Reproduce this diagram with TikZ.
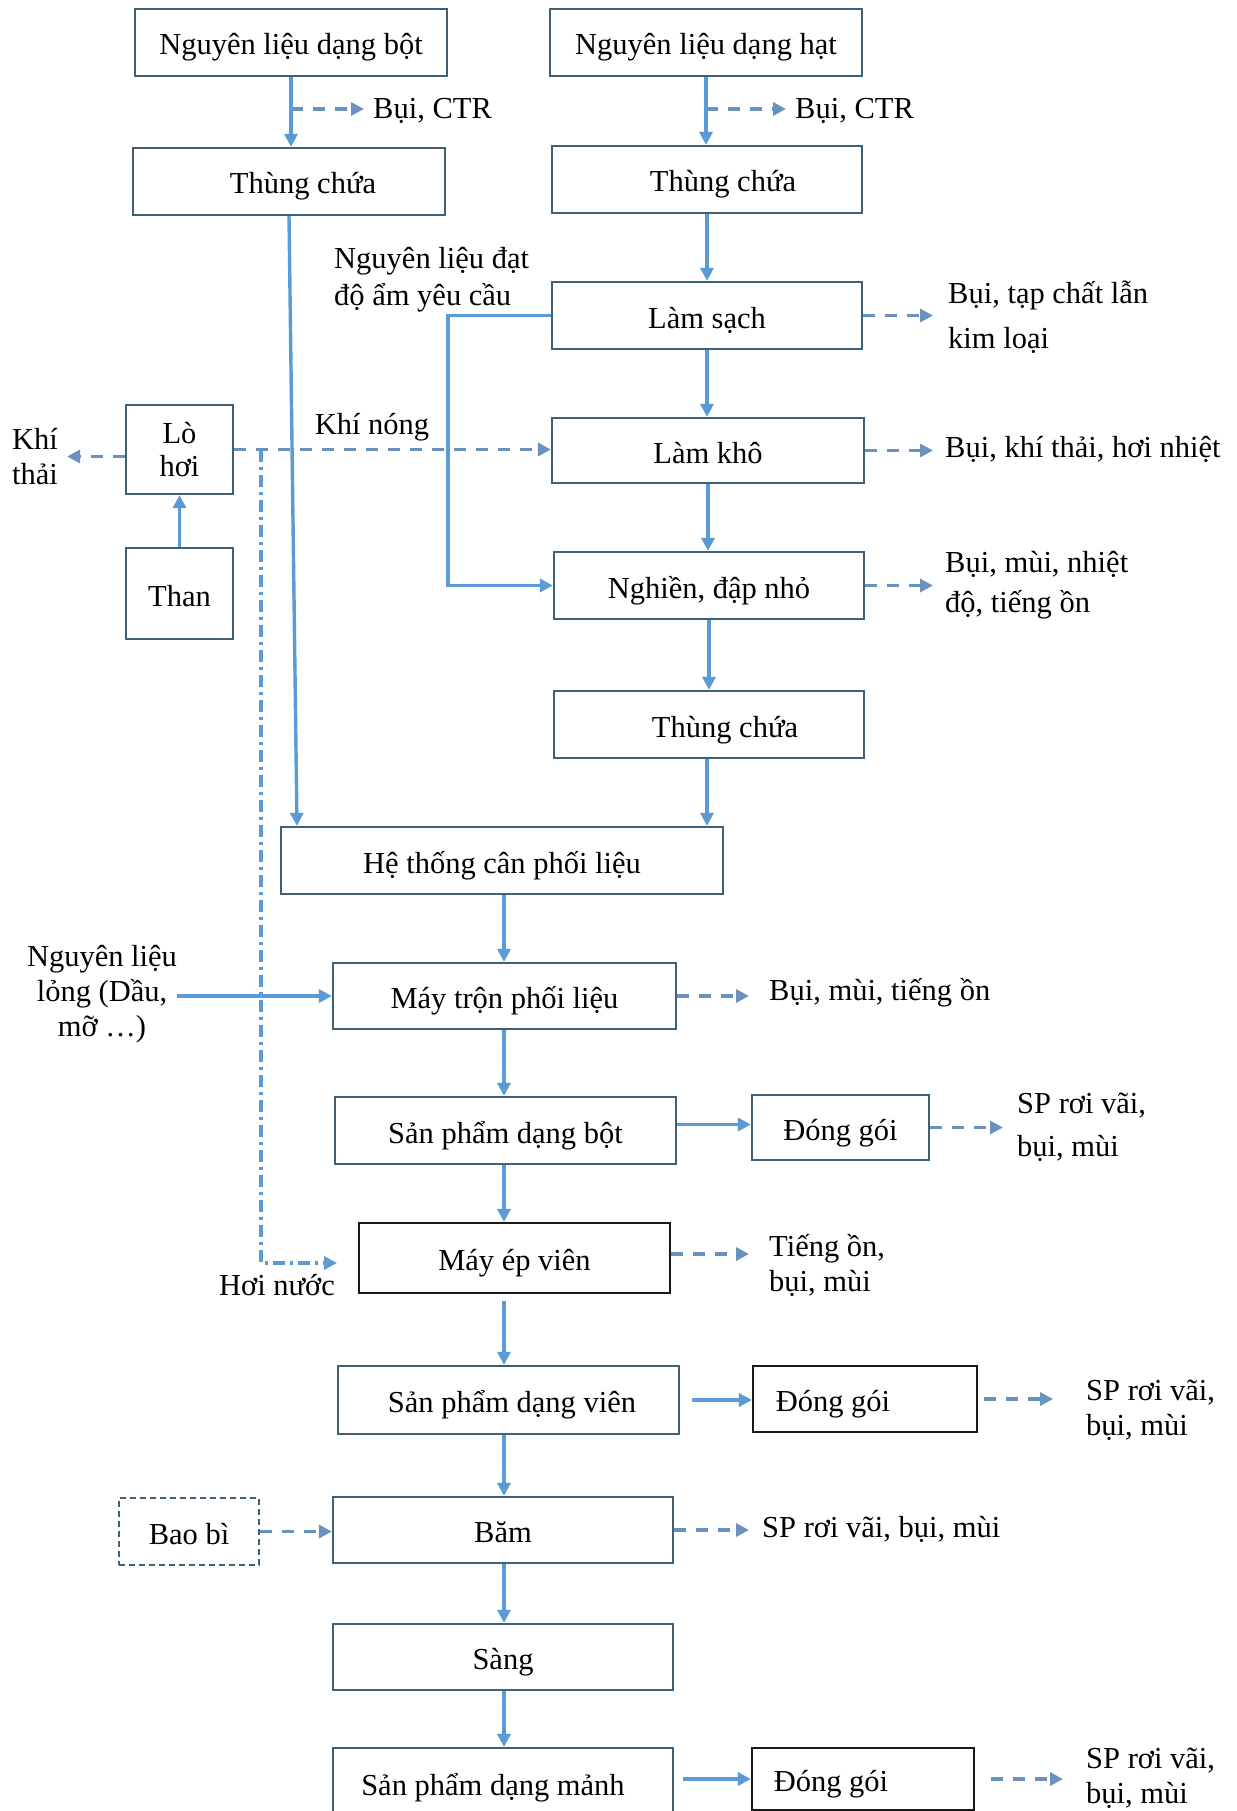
\documentclass[tikz,border=0pt]{standalone}
\usepackage{fontspec}
\setmainfont{Liberation Serif}
\usetikzlibrary{arrows.meta}
\definecolor{boxc}{HTML}{3F6178}
\definecolor{arrc}{HTML}{5B9BD5}
\definecolor{dashc}{HTML}{6A92BC}
\newcommand\fsz{\fontsize{30.5}{36}\selectfont}
\newcommand\fls[1]{\fontsize{30.5}{#1}\selectfont}
\begin{document}
\begin{tikzpicture}[x=1pt,y=-1pt,
  box/.style={draw=boxc, line width=2.2pt, fill=white, inner sep=2pt, font=\fsz, text height=29pt, text depth=4pt},
  kbox/.style={box, draw=black!90},
  dbox/.style={box, dash pattern=on 6pt off 4pt},
  lab/.style={inner sep=0pt, font=\fsz, align=left},
  arr/.style={draw=arrc, line width=3.4pt, -{Triangle[length=13pt,width=13pt]}},
  darr/.style={draw=dashc, line width=3.4pt, dash pattern=on 12pt off 10pt, -{Triangle[length=13pt,width=13pt]}},
  ddarr/.style={draw=arrc, line width=3.2pt, dash pattern=on 12pt off 5pt on 3pt off 5pt, -{Triangle[length=13pt,width=13pt]}}]
\fill[white] (0,0) rectangle (1236,1811);
\useasboundingbox (0,0) rectangle (1236,1811);

% boxes
\node[box, minimum width=312pt, minimum height=67pt] (bot) at (291,42.5) {Nguyên liệu dạng bột};
\node[box, minimum width=312pt, minimum height=67pt] (hat) at (706,42.5) {Nguyên liệu dạng hạt};
\node[box, minimum width=312pt, minimum height=67pt] (tc1) at (289,181.5) {\hspace*{28pt}Thùng chứa};
\node[box, minimum width=310pt, minimum height=67pt] (tc2) at (707,179.5) {\hspace*{32pt}Thùng chứa};
\node[box, minimum width=310pt, minimum height=67pt] (lamsach) at (707,315.5) {Làm sạch};
\node[box, minimum width=312pt, minimum height=65pt] (lamkho) at (708,450.5) {Làm khô};
\node[box, minimum width=310pt, minimum height=67pt] (nghien) at (709,585.5) {Nghiền, đập nhỏ};
\node[box, minimum width=310pt, minimum height=67pt] (tc3) at (709,724.5) {\hspace*{32pt}Thùng chứa};
\node[box, minimum width=442pt, minimum height=67pt] (heth) at (502,860.5) {Hệ thống cân phối liệu};
\node[box, minimum width=343pt, minimum height=66pt] (mixer) at (504.5,996) {Máy trộn phối liệu};
\node[box, minimum width=341pt, minimum height=67pt] (spbot) at (505.5,1130.5) {Sản phẩm dạng bột};
\node[box, minimum width=177pt, minimum height=65pt] (dg1) at (840.5,1127.5) {Đóng gói};
\node[kbox, minimum width=311pt, minimum height=70pt] (press) at (514.5,1258) {Máy ép viên};
\node[box, minimum width=341pt, minimum height=68pt] (spvien) at (508.5,1400) {\hspace*{7pt}Sản phẩm dạng viên};
\node[kbox, minimum width=224pt, minimum height=66pt] (dg2) at (865,1399) {Đóng gói\hspace*{64pt}};
\node[dbox, minimum width=140pt, minimum height=67pt] (baobi) at (189,1531.5) {Bao bì};
\node[box, minimum width=340pt, minimum height=66pt] (bam) at (503,1530) {Băm};
\node[box, minimum width=340pt, minimum height=66pt] (sang) at (503,1657) {Sàng};
\node[box, minimum width=340pt, minimum height=70pt] (spmanh) at (503,1783) {Sản phẩm dạng mảnh\hspace*{20pt}};
\node[kbox, minimum width=222pt, minimum height=62pt] (dg3) at (863,1779) {Đóng gói\hspace*{64pt}};
\node[box, minimum width=107pt, minimum height=89pt, align=center, font=\fls{33}, text height={}, text depth={}] (lohoi) at (179.5,449.5) {Lò\\hơi};
\node[box, minimum width=107pt, minimum height=91pt] (than) at (179.5,593.5) {Than};

% labels
\node[lab, anchor=west] (e1) at (373,111) {Bụi, CTR};
\node[lab, anchor=west] (e2) at (795,111) {Bụi, CTR};
\node[lab, anchor=west, font=\fls{45}] (e3) at (948,317) {Bụi, tạp chất lẫn\\kim loại};
\node[lab, anchor=west] (e4) at (945,449) {Bụi, khí thải, hơi nhiệt};
\node[lab, anchor=west, font=\fls{40}] (e5) at (945,585) {Bụi, mùi, nhiệt\\độ, tiếng ồn};
\node[lab, anchor=west] (e6) at (769,993) {Bụi, mùi, tiếng ồn};
\node[lab, anchor=west, font=\fls{43}] (e7) at (1017,1127) {SP rơi vãi,\\bụi, mùi};
\node[lab, anchor=west, font=\fls{35}] (e8) at (769,1265) {Tiếng ồn,\\bụi, mùi};
\node[lab, anchor=west, font=\fls{35}] (e9) at (1086,1410) {SP rơi vãi,\\bụi, mùi};
\node[lab, anchor=west] (e10) at (762,1529) {SP rơi vãi, bụi, mùi};
\node[lab, anchor=west, font=\fls{35}] (e11) at (1086,1778) {SP rơi vãi,\\bụi, mùi};
\node[lab, anchor=west, font=\fls{35}] (khithai) at (12,457) {Khí\\thải};
\node[lab] (khinong) at (372,427) {Khí nóng};
\node[lab, anchor=west, font=\fls{37}] (dat) at (334,280) {Nguyên liệu đạt\\độ ẩm yêu cầu};
\node[lab, align=center, font=\fls{35}] (liq) at (102,994) {Nguyên liệu\\lỏng (Dầu,\\mỡ …)};
\node[lab] (hoinuoc) at (277,1285) {Hơi nước};

% helper coordinates
\coordinate (lx) at (297,0);
\coordinate (ax) at (504,0);
\coordinate (b1) at (291,109);
\coordinate (b2) at (706,109);
\coordinate (kn) at (261,449.5);
\coordinate (hn) at (337,1263);
\coordinate (kt) at ([yshift=-7pt]lohoi.west);
\coordinate (pe) at ([yshift=4pt]press.east);
\coordinate (sb) at ([yshift=6pt]spbot.east);
\coordinate (t3) at ([xshift=-2pt]tc3.south);

% dashed (hot air, emissions)
\draw[darr] (lohoi.east) -- (lamkho.west |- lohoi.east);
\draw[darr, shorten >=9pt] (kt) -- (khithai.east |- kt);
\draw[ddarr] (kn) |- (hn);
\draw[darr, shorten >=9pt] (b1) -- (e1.west |- b1);
\draw[darr, shorten >=9pt] (b2) -- (e2.west |- b2);
\draw[darr, shorten >=15pt] (lamsach.east) -- (e3.west |- lamsach.east);
\draw[darr, shorten >=12pt] (lamkho.east) -- (e4.west |- lamkho.east);
\draw[darr, shorten >=12pt] (nghien.east) -- (e5.west |- nghien.east);
\draw[darr, shorten >=20pt] (mixer.east) -- (e6.west |- mixer.east);
\draw[darr, shorten >=14pt] (dg1.east) -- (e7.west |- dg1.east);
\draw[darr, shorten >=20pt] (pe) -- (e8.west |- pe);
\draw[darr, shorten <=6pt, shorten >=33pt] (dg2.east) -- (e9.west |- dg2.east);
\draw[darr, shorten >=13pt] (bam.east) -- (e10.west |- bam.east);
\draw[darr, shorten <=16pt, shorten >=23pt] (dg3.east) -- (e11.west |- dg3.east);
\draw[darr] (baobi.east) -- (baobi.east -| bam.west);

% solid flow
\draw[arr] (bot.south) -- (bot.south |- tc1.north);
\draw[arr] (hat.south) -- (hat.south |- tc2.north);
\draw[arr] (tc2.south) -- (tc2.south |- lamsach.north);
\draw[arr] (lamsach.south) -- (lamsach.south |- lamkho.north);
\draw[arr] (lamkho.south) -- (lamkho.south |- nghien.north);
\draw[arr] (nghien.south) -- (nghien.south |- tc3.north);
\draw[arr] (t3) -- (t3 |- heth.north);
\draw[arr] (tc1.south) -- (heth.north -| lx);
\draw[arr] (lamsach.west) -- ++(-103,0) |- (nghien.west);
\draw[arr] (than.north) -- (lohoi.south);
\draw[arr] (liq.east |- mixer.west) -- (mixer.west);
\draw[arr] (heth.south -| ax) -- (mixer.north -| ax);
\draw[arr] (mixer.south -| ax) -- (spbot.north -| ax);
\draw[arr] (spbot.south -| ax) -- (press.north -| ax);
\draw[arr, shorten <=7pt] (press.south -| ax) -- (spvien.north -| ax);
\draw[arr] (spvien.south -| ax) -- (bam.north -| ax);
\draw[arr] (bam.south -| ax) -- (sang.north -| ax);
\draw[arr] (sang.south -| ax) -- (spmanh.north -| ax);
\draw[arr] (sb) -- (sb -| dg1.west);
\draw[arr, shorten <=12pt] (spvien.east) -- (spvien.east -| dg2.west);
\draw[arr, shorten <=9pt] (spmanh.east |- dg3.west) -- (dg3.west);
\end{tikzpicture}
\end{document}
